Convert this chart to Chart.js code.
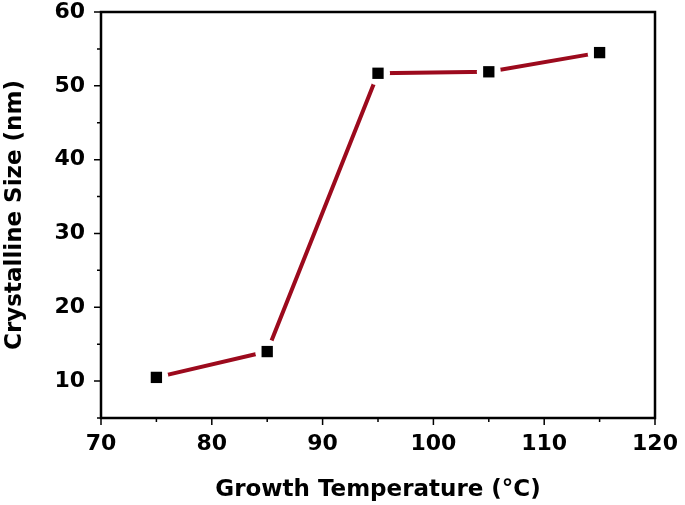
<!DOCTYPE html>
<html>
<head>
<meta charset="utf-8">
<script src="https://cdn.jsdelivr.net/npm/chart.js@4.4.1/dist/chart.umd.min.js"></script>
<style>
  html, body { margin: 0; padding: 0; background: #ffffff; }
  #grafico { width: 685px; height: 505px; display: block; }
</style>
</head>
<body>
<div id="grafico"><canvas id="graficoLinha"></canvas></div>
<script>
// dados
const temperaturas = [75, 85, 95, 105, 115];
const tamanhoCristalito = [10.5, 14.0, 51.7, 51.9, 54.5];
const limitesX = [70, 120];
const limitesY = [5, 60];

const fonte = "'DejaVu Sans', sans-serif";

let pontos = [];
for (let i = 0; i < temperaturas.length; i++) {
  pontos.push({ x: temperaturas[i], y: tamanhoCristalito[i] });
}

// desenha a moldura e os ticks (maiores a cada 10, menores a cada 5)
const molduraETicks = {
  id: "molduraETicks",
  afterDraw(chart) {
    const ctx = chart.ctx;
    const area = chart.chartArea;
    const sx = chart.scales.x;
    const sy = chart.scales.y;

    ctx.save();
    ctx.strokeStyle = "#000000";
    ctx.lineWidth = 2.5;
    ctx.strokeRect(area.left, area.top, area.right - area.left, area.bottom - area.top);

    ctx.lineWidth = 1.5;
    ctx.beginPath();
    for (let v = limitesX[0]; v <= limitesX[1]; v += 5) {
      let px = sx.getPixelForValue(v);
      let tam = v % 10 === 0 ? 7 : 4;
      ctx.moveTo(px, area.bottom);
      ctx.lineTo(px, area.bottom + tam);
    }
    for (let v = limitesY[0]; v <= limitesY[1]; v += 5) {
      let py = sy.getPixelForValue(v);
      let tam = v % 10 === 0 ? 7 : 4;
      ctx.moveTo(area.left, py);
      ctx.lineTo(area.left - tam, py);
    }
    ctx.stroke();
    ctx.restore();
  },
};

new Chart(document.getElementById("graficoLinha"), {
  type: "scatter",

  data: {
    datasets: [
      {
        label: "marcadores",
        data: pontos,
        showLine: false,
        pointStyle: "rect",
        pointRadius: 8,
        pointHoverRadius: 8,
        pointBackgroundColor: "#000000",
        pointBorderWidth: 0,
        order: 0,
      },
      {
        label: "linha",
        data: pontos,
        showLine: true,
        borderColor: "#9c0a1d",
        borderWidth: 4,
        borderCapStyle: "round",
        pointStyle: "circle",
        pointRadius: 12,
        pointHoverRadius: 12,
        pointBackgroundColor: "#ffffff",
        pointBorderWidth: 0,
        order: 1,
      },
    ],
  },

  plugins: [molduraETicks],

  options: {
    responsive: true,
    maintainAspectRatio: false,
    animation: false,

    layout: {
      padding: { top: 10, right: 30, left: 0, bottom: 0 },
    },

    plugins: {
      legend: { display: false },
      tooltip: { enabled: false },
    },

    scales: {
      x: {
        type: "linear",
        min: limitesX[0],
        max: limitesX[1],
        afterFit(scale) {
          scale.height = 87;
          scale.paddingLeft = 0;
          scale.paddingRight = 0;
        },
        ticks: {
          stepSize: 10,
          color: "#000000",
          padding: 5,
          maxRotation: 0,
          font: { family: fonte, size: 22, weight: "bold" },
        },
        grid: {
          drawOnChartArea: false,
          tickLength: 8,
          tickColor: "rgba(0,0,0,0)",
        },
        border: { display: false },
        title: {
          display: true,
          text: "Growth Temperature (°C)",
          color: "#000000",
          padding: { top: 0, bottom: 1 },
          font: { family: fonte, size: 23, weight: "bold" },
        },
      },

      y: {
        min: limitesY[0],
        max: limitesY[1],
        afterFit(scale) {
          scale.width = 101;
          scale.paddingTop = 0;
          scale.paddingBottom = 0;
        },
        afterBuildTicks(scale) {
          scale.ticks = scale.ticks.filter((t) => t.value % 10 === 0);
        },
        ticks: {
          stepSize: 10,
          color: "#000000",
          padding: 8,
          font: { family: fonte, size: 22, weight: "bold" },
        },
        grid: {
          drawOnChartArea: false,
          tickLength: 8,
          tickColor: "rgba(0,0,0,0)",
        },
        border: { display: false },
        title: {
          display: true,
          text: "Crystalline Size (nm)",
          color: "#000000",
          padding: { top: 1, bottom: 0 },
          font: { family: fonte, size: 23, weight: "bold" },
        },
      },
    },
  },
});
</script>
</body>
</html>
